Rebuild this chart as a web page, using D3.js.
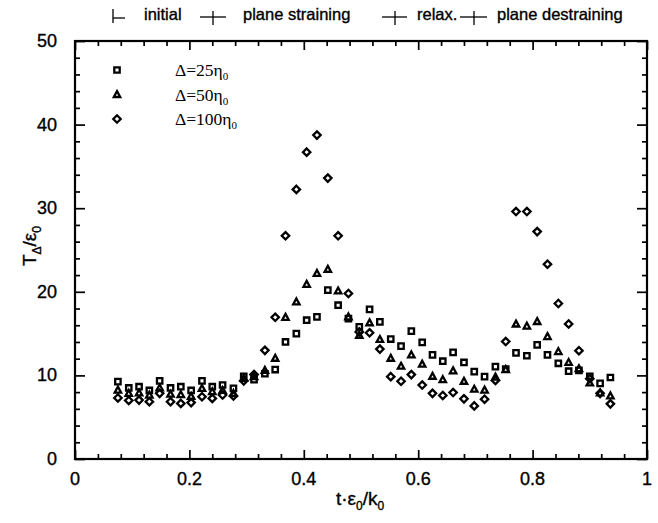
<!DOCTYPE html>
<html>
<head>
<meta charset="utf-8">
<script src="https://cdn.jsdelivr.net/npm/d3@7"></script>
<style>
   body { margin: 0; background: #fff; }
   svg text { fill: #000; }
   svg text.heavy { stroke: #000; stroke-width: 0.35; }
</style>
</head>
<body>
<div id="chart"></div>
<script>
// time t*eps0/k0 of each sample
const tValues = [
   0.075, 0.094, 0.112, 0.130, 0.148, 0.167, 0.185, 0.203, 0.222, 0.240,
   0.258, 0.277, 0.295, 0.313, 0.332, 0.350, 0.368, 0.387, 0.405, 0.423,
   0.442, 0.460, 0.478, 0.497, 0.515, 0.533, 0.552, 0.570, 0.588, 0.607,
   0.625, 0.643, 0.661, 0.680, 0.698, 0.716, 0.735, 0.753, 0.771, 0.790,
   0.808, 0.826, 0.845, 0.863, 0.881, 0.900, 0.918, 0.936
];

// T_delta / eps0 for the three filter widths
const delta25 = [
   9.25, 8.5, 8.65, 8.2, 9.35, 8.5, 8.65, 8.2, 9.35, 8.65,
   8.85, 8.45, 9.9, 9.5, 10.2, 10.7, 14.0, 15.0, 16.6, 17.0,
   20.2, 18.4, 16.8, 15.8, 17.9, 16.4, 14.35, 13.5, 15.3, 13.95,
   12.45, 11.7, 12.75, 11.55, 10.45, 9.85, 11.05, 10.75, 12.7, 12.35,
   13.65, 12.45, 11.45, 10.5, 10.6, 9.9, 9.05, 9.75
];
const delta50 = [
   8.25, 7.85, 7.9, 7.65, 8.5, 7.75, 7.7, 7.5, 8.45, 8.05,
   8.2, 7.85, 9.65, 9.85, 10.6, 12.05, 16.95, 18.8, 20.9, 22.2,
   22.7, 20.1, 17.0, 14.8, 16.3, 14.3, 12.05, 11.1, 12.45, 11.35,
   9.9, 9.5, 10.55, 9.3, 8.35, 8.25, 9.8, 10.7, 16.15, 15.9,
   16.45, 14.65, 12.85, 11.55, 10.8, 9.1, 7.9, 7.55
];
const delta100 = [
   7.3, 7.0, 7.05, 6.85, 7.85, 6.85, 6.65, 6.75, 7.45, 7.25,
   7.65, 7.55, 9.35, 10.1, 13.0, 16.95, 26.7, 32.25, 36.7, 38.75,
   33.6, 26.7, 19.8, 15.2, 15.1, 13.15, 9.85, 9.3, 10.1, 8.85,
   7.85, 7.6, 7.95, 7.2, 6.35, 7.15, 9.4, 14.05, 29.6, 29.6,
   27.2, 23.3, 18.6, 16.15, 12.95, 9.6, 7.85, 6.6
];

const seriesNames = ['25', '50', '100'];
const seriesShapes = ['square', 'triangle', 'diamond'];
const phaseLabels = ['initial', 'plane straining', 'relax.', 'plane destraining'];

const xTicks = [0, 0.2, 0.4, 0.6, 0.8, 1];
const xTickLabels = ['0', '0.2', '0.4', '0.6', '0.8', '1'];
const yTicks = [0, 10, 20, 30, 40, 50];

const width = 658;
const height = 523;
const margin = { top: 41, right: 11, bottom: 64, left: 75 };
const innerW = width - margin.left - margin.right;
const innerH = height - margin.top - margin.bottom;

const svg = d3.select('#chart')
   .append('svg')
   .attr('width', width)
   .attr('height', height)
   .style('font-family', '"Liberation Sans", Arial, sans-serif');

const chart = svg.append('g')
   .attr('transform', `translate(${margin.left},${margin.top})`);

const xScale = d3.scaleLinear().domain([0, 1]).range([0, innerW]);
const yScale = d3.scaleLinear().domain([0, 50]).range([innerH, 0]);

// axes: ticks point inward on all four sides
const xMinor = d3.range(0, 1.0001, 0.04).filter(d => Math.abs(d * 5 - Math.round(d * 5)) > 1e-6);
const yMinor = d3.range(0, 50.001, 2).filter(d => d % 10 !== 0);

function tickLayer(axisFn, scale, values, size, transform) {
   const g = chart.append('g')
      .attr('class', 'axis')
      .attr('transform', transform)
      .call(axisFn(scale).tickValues(values).tickSize(-size).tickFormat(''));
   g.select('.domain').remove();
   g.selectAll('line').attr('stroke', '#000').attr('stroke-width', 1.7);
   return g;
}

tickLayer(d3.axisBottom, xScale, xTicks, 9, `translate(0,${innerH})`);
tickLayer(d3.axisBottom, xScale, xMinor, 5, `translate(0,${innerH})`);
tickLayer(d3.axisTop, xScale, xTicks, 9, 'translate(0,0)');
tickLayer(d3.axisTop, xScale, xMinor, 5, 'translate(0,0)');
tickLayer(d3.axisLeft, yScale, yTicks, 10, 'translate(0,0)');
tickLayer(d3.axisLeft, yScale, yMinor, 5, 'translate(0,0)');
tickLayer(d3.axisRight, yScale, yTicks, 10, `translate(${innerW},0)`);
tickLayer(d3.axisRight, yScale, yMinor, 5, `translate(${innerW},0)`);

// tick labels
chart.append('g')
   .selectAll('text')
   .data(xTicks)
   .join('text')
   .attr('class', 'heavy')
   .attr('x', d => xScale(d))
   .attr('y', innerH + 26)
   .attr('text-anchor', 'middle')
   .attr('font-size', 18)
   .text((d, i) => xTickLabels[i]);

chart.append('g')
   .selectAll('text')
   .data(yTicks)
   .join('text')
   .attr('class', 'heavy')
   .attr('x', -18)
   .attr('y', d => yScale(d) + 6)
   .attr('text-anchor', 'end')
   .attr('font-size', 18)
   .text(d => d);

// frame
chart.append('rect')
   .attr('width', innerW)
   .attr('height', innerH)
   .attr('fill', 'none')
   .attr('stroke', '#000')
   .attr('stroke-width', 2.2);

// markers
function markerPath(shape) {
   if (shape === 'square') return 'M-2.7,-2.7H2.7V2.7H-2.7Z';
   if (shape === 'triangle') return 'M0,-3.4L3.2,2.5H-3.2Z';
   return 'M0,-3.7L3.7,0L0,3.7L-3.7,0Z';
}

const seriesData = [delta25, delta50, delta100];

seriesData.forEach((values, k) => {
   chart.append('g')
      .attr('class', 'series-' + seriesNames[k])
      .selectAll('path')
      .data(values)
      .join('path')
      .attr('transform', (d, i) => `translate(${xScale(tValues[i])},${yScale(d)})`)
      .attr('d', markerPath(seriesShapes[k]))
      .attr('fill', 'none')
      .attr('stroke', '#000')
      .attr('stroke-width', 2.3);
});

// inset legend
const legend = chart.append('g')
   .attr('transform', 'translate(42,29)');

seriesNames.forEach((name, k) => {
   const row = legend.append('g').attr('transform', `translate(0,${k * 24.5})`);
   row.append('path')
      .attr('d', markerPath(seriesShapes[k]))
      .attr('fill', 'none')
      .attr('stroke', '#000')
      .attr('stroke-width', 2.3);
   const t = row.append('text')
      .attr('x', 58)
      .attr('y', 6)
      .attr('font-family', '"Liberation Serif", "Times New Roman", serif')
      .attr('font-size', 17.5);
   t.append('tspan').text('\u0394=' + name + '\u03b7');
   t.append('tspan').attr('font-size', 11).attr('dy', 4).text('0');
});

// axis titles
const yTitle = svg.append('text')
   .attr('class', 'heavy')
   .attr('transform', 'translate(36,246) rotate(-90)')
   .attr('text-anchor', 'middle')
   .attr('font-size', 19);
yTitle.append('tspan').text('T');
yTitle.append('tspan').attr('font-size', 12).attr('dy', 5).text('\u0394');
yTitle.append('tspan').attr('dy', -5).text('/\u03b5');
yTitle.append('tspan').attr('font-size', 12).attr('dy', 5).text('0');

const xTitle = svg.append('text')
   .attr('class', 'heavy')
   .attr('x', 360)
   .attr('y', 505)
   .attr('text-anchor', 'middle')
   .attr('font-size', 19);
xTitle.append('tspan').text('t\u00b7\u03b5');
xTitle.append('tspan').attr('font-size', 12).attr('dy', 5).text('0');
xTitle.append('tspan').attr('dy', -5).text('/k');
xTitle.append('tspan').attr('font-size', 12).attr('dy', 5).text('0');

// phase strip above the plot
const phases = svg.append('g').attr('class', 'phases');
const phaseText = [
   { label: phaseLabels[0], x: 144 },
   { label: phaseLabels[1], x: 243 },
   { label: phaseLabels[2], x: 417 },
   { label: phaseLabels[3], x: 497 }
];
phases.selectAll('text')
   .data(phaseText)
   .join('text')
   .attr('class', 'heavy')
   .attr('x', d => d.x)
   .attr('y', 20)
   .attr('font-size', 16.5)
   .text(d => d.label);

// |- start mark, then -|- separators
const sep = phases.append('g')
   .attr('stroke', '#000')
   .attr('stroke-width', 1.3);
sep.append('line').attr('x1', 113).attr('x2', 113).attr('y1', 9).attr('y2', 23);
sep.append('line').attr('x1', 113).attr('x2', 125).attr('y1', 18).attr('y2', 18);
[[200, 213, 226], [382, 395, 407], [460, 474, 487]].forEach(s => {
   sep.append('line').attr('x1', s[0]).attr('x2', s[2]).attr('y1', 17).attr('y2', 17);
   sep.append('line').attr('x1', s[1]).attr('x2', s[1]).attr('y1', 11).attr('y2', 25);
});
</script>
</body>
</html>
